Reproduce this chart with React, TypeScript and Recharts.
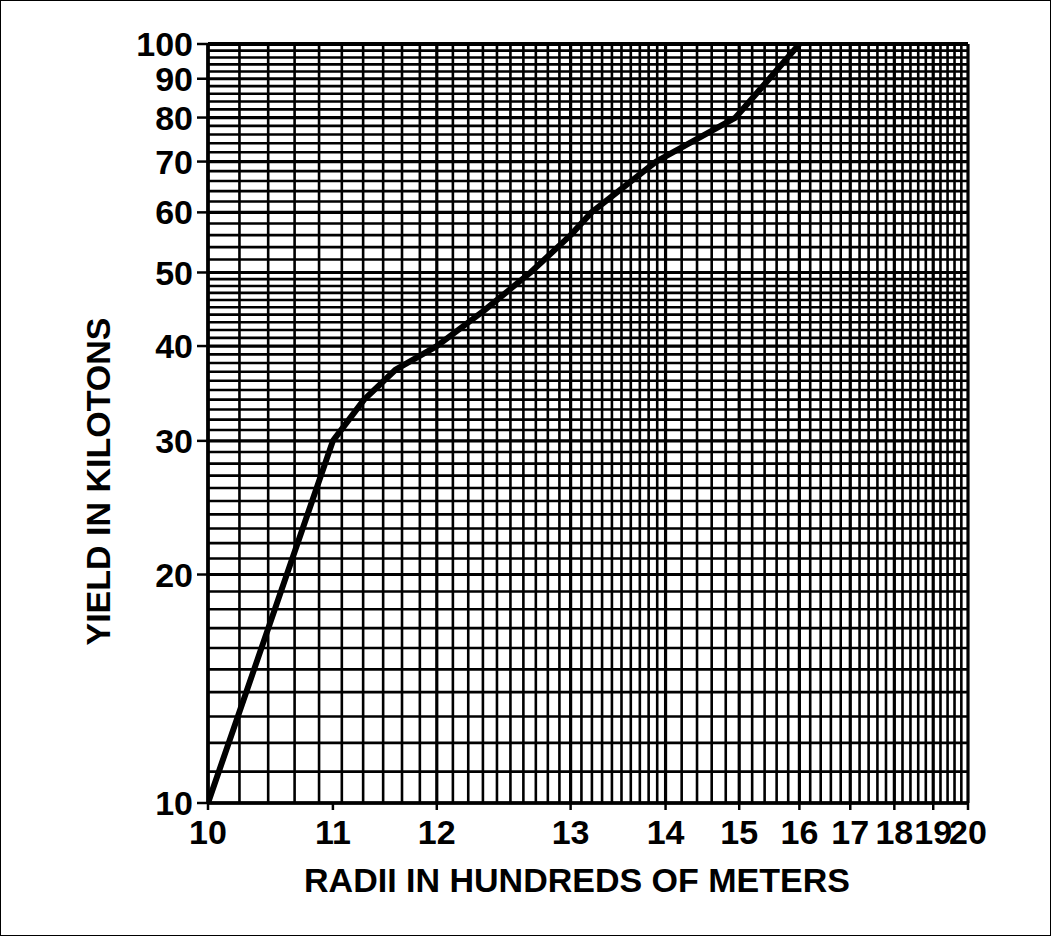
import React from 'react';
import { LineChart, Line, XAxis, YAxis, ReferenceLine } from 'recharts';

// Axis labels (radius in hundreds of meters) and where they sit on the log paper
const radiusLabels = [10, 11, 12, 13, 14, 15, 16, 17, 18, 19, 20];
const paperTicks = [1, 1.46, 2, 3, 4, 5, 6, 7, 8, 9, 10];
const yieldTicks = [10, 20, 30, 40, 50, 60, 70, 80, 90, 100];

// Curve
const curveRadius = [10, 11, 11.3, 11.6, 12, 12.35, 12.7, 13.0, 13.22, 13.9, 14.95, 15.5, 16];
const curveYield = [10, 30, 34, 37.2, 40, 44.5, 50, 56, 60, 70, 80, 90, 100];

// Log-paper grid rulings
const range = (a: number, b: number, s: number) => {
  const out: number[] = [];
  for (let v = a; v <= b + 1e-9; v += s) out.push(Math.round(v * 1000) / 1000);
  return out;
};
const paperGridFine = [...range(1, 4, 0.1), ...range(4.2, 10, 0.2)];
const paperGridMajor = [1, 2, 3, 4, 5, 6, 7, 8, 9, 10];
const yieldGridFine = [...range(10, 50, 1), ...range(52, 100, 2)];

const toPaper = (r: number) => {
  for (let i = 0; i < radiusLabels.length - 1; i++) {
    const r0 = radiusLabels[i];
    const r1 = radiusLabels[i + 1];
    if (r >= r0 && r <= r1) {
      const l0 = Math.log10(paperTicks[i]);
      const l1 = Math.log10(paperTicks[i + 1]);
      return Math.pow(10, l0 + ((r - r0) / (r1 - r0)) * (l1 - l0));
    }
  }
  return 10;
};

const data = curveRadius.map((r, i) => ({ p: toPaper(r), radius: r, yield: curveYield[i] }));

const FONT = '"Liberation Sans", Arial, Helvetica, sans-serif';
const tickStyle = { fontSize: 34, fontWeight: 700, fill: '#000', fontFamily: FONT };

const xLabel = (v: number) => {
  const i = paperTicks.indexOf(v);
  return i >= 0 ? String(radiusLabels[i]) : '';
};

export default function App() {
  return (
    <div style={{ position: 'absolute', left: 0, top: 0, width: 1051, height: 936, background: '#fff' }}>
      <div
        style={{
          position: 'absolute',
          left: 0,
          top: 0,
          width: 1051,
          height: 936,
          boxSizing: 'border-box',
          border: '1.5px solid #000',
        }}
      />
      <div style={{ position: 'absolute', left: 0, top: 0 }}>
        <LineChart width={1051} height={936} data={data} margin={{ top: 44, right: 83, bottom: 0, left: 0 }}>
          <XAxis
            dataKey="p"
            type="number"
            scale="log"
            domain={[1, 10]}
            allowDataOverflow
            ticks={paperTicks}
            interval={0}
            tickFormatter={xLabel}
            tick={tickStyle}
            tickSize={7}
            tickMargin={10}
            axisLine={{ stroke: '#000', strokeWidth: 3.5 }}
            tickLine={{ stroke: '#000', strokeWidth: 2.5 }}
            height={133}
            label={{
              content: (props: any) => {
                const vb = props.viewBox || { x: 208, y: 803, width: 760 };
                return (
                  <text
                    x={vb.x + vb.width / 2 - 11}
                    y={vb.y + 89}
                    textAnchor="middle"
                    style={{ fontSize: 34, fontWeight: 700, fontFamily: FONT, fill: '#000' }}
                  >
                    RADII IN HUNDREDS OF METERS
                  </text>
                );
              },
            }}
          />
          <YAxis
            dataKey="yield"
            type="number"
            scale="log"
            domain={[10, 100]}
            allowDataOverflow
            ticks={yieldTicks}
            interval={0}
            tick={tickStyle}
            tickSize={11}
            tickMargin={4}
            axisLine={{ stroke: '#000', strokeWidth: 3.5 }}
            tickLine={{ stroke: '#000', strokeWidth: 2.5 }}
            width={208}
            label={{
              content: (props: any) => {
                const vb = props.viewBox || { x: 0, y: 44, width: 208, height: 759 };
                const cx = 110;
                const cy = vb.y + vb.height / 2 + 58;
                return (
                  <text
                    x={cx}
                    y={cy}
                    transform={`rotate(-90 ${cx} ${cy})`}
                    textAnchor="middle"
                    style={{ fontSize: 34, fontWeight: 700, fontFamily: FONT, fill: '#000' }}
                  >
                    YIELD IN KILOTONS
                  </text>
                );
              },
            }}
          />
          {yieldGridFine.map((v) => (
            <ReferenceLine
              key={`h${v}`}
              y={v}
              stroke="#000"
              strokeWidth={yieldTicks.includes(v) ? 3.2 : 2.6}
              ifOverflow="extendDomain"
            />
          ))}
          {paperGridFine.map((v) => (
            <ReferenceLine
              key={`v${v}`}
              x={v}
              stroke="#000"
              strokeWidth={paperGridMajor.includes(v) ? 3.2 : 2.6}
              ifOverflow="extendDomain"
            />
          ))}
          <ReferenceLine y={100} stroke="#000" strokeWidth={4} />
          <Line
            type="linear"
            dataKey="yield"
            stroke="#000"
            strokeWidth={6}
            dot={false}
            isAnimationActive={false}
            strokeLinejoin="round"
          />
        </LineChart>
      </div>
    </div>
  );
}
